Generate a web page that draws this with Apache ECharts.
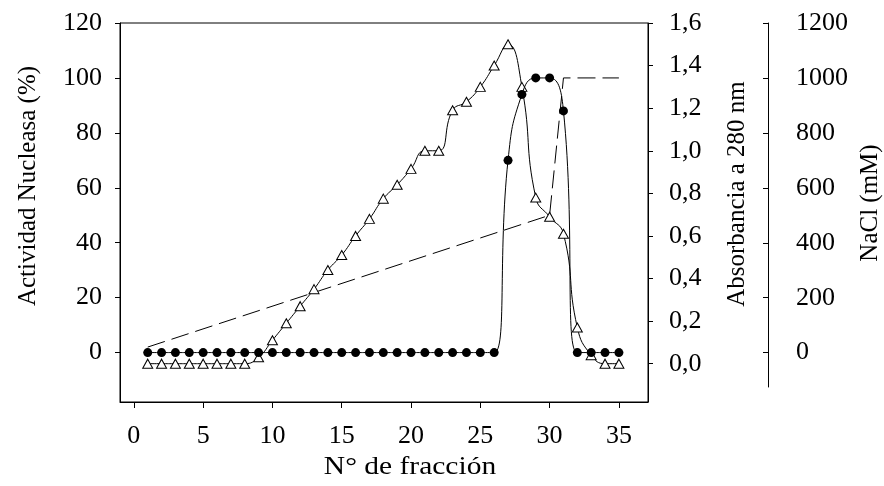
<!DOCTYPE html>
<html>
<head>
<meta charset="utf-8">
<script src="https://cdn.jsdelivr.net/npm/echarts@6/dist/echarts.min.js"></script>
<style>
  html, body { margin: 0; padding: 0; background: #fff; }
  #chart { width: 884px; height: 486px; }
</style>
</head>
<body>
<div id="chart"></div>
<script>
// Fraction numbers collected from the column
const fractions = [1, 2, 3, 4, 5, 6, 7, 8, 9, 10, 11, 12, 13, 14, 15, 16, 17, 18,
  19, 20, 21, 22, 23, 24, 25, 26, 27, 28, 29, 30, 31, 32, 33, 34, 35];

// Nuclease activity (%) per fraction
const activity = [0, 0, 0, 0, 0, 0, 0, 0, 0, 0, 0, 0, 0, 0, 0, 0, 0, 0,
  0, 0, 0, 0, 0, 0, 0, 0, 70, 94, 100, 100, 88, 0, 0, 0, 0];

// Absorbance at 280 nm per fraction
const absorbance = [0, 0, 0, 0, 0, 0, 0, 0, 0.03, 0.11, 0.19, 0.27, 0.35, 0.44,
  0.51, 0.60, 0.68, 0.775, 0.84, 0.915, 1.0, 1.0, 1.19, 1.23, 1.30, 1.40, 1.50,
  1.30, 0.78, 0.69, 0.61, 0.17, 0.04, 0, 0];

// NaCl gradient (mM): linear ramp, then step
const naclFraction = [1, 30, 31, 35];
const naclConc = [20, 500, 1000, 1000];

// Tick labels
const xTicks = [0, 5, 10, 15, 20, 25, 30, 35];
const activityTicks = [0, 20, 40, 60, 80, 100, 120];
const absorbanceTicks = [0, 0.2, 0.4, 0.6, 0.8, 1.0, 1.2, 1.4, 1.6];
const naclTicks = [0, 200, 400, 600, 800, 1000, 1200];

const FONT = 'Liberation Serif';
const INK = '#000';

const pair = (xs, ys) => xs.map((x, i) => [x, ys[i]]);

const chart = echarts.init(document.getElementById('chart'), null, { renderer: 'canvas' });

const labelStyle = { color: INK, fontFamily: FONT, fontSize: 26 };
const titleStyle = { fill: INK, fontFamily: FONT, fontSize: 25, align: 'center', verticalAlign: 'middle' };

chart.setOption({
  animation: false,
  backgroundColor: '#fff',
  textStyle: { fontFamily: FONT },
  grid: [
    { left: 120, right: 236, top: 23, bottom: 84, show: true, borderColor: INK, borderWidth: 1 },
    { left: 700, right: 116, top: 23, bottom: 99 }
  ],
  xAxis: [
    {
      type: 'value', gridIndex: 0, min: -1, max: 37.1,
      axisLine: { show: true, onZero: false, lineStyle: { color: INK, width: 1 } },
      axisTick: { show: true, length: 6, lineStyle: { color: INK }, customValues: xTicks },
      axisLabel: Object.assign({ margin: 21, customValues: xTicks, formatter: v => String(v) }, labelStyle),
      splitLine: { show: false }
    },
    { type: 'value', gridIndex: 1, min: 0, max: 1, show: false }
  ],
  yAxis: [
    {
      type: 'value', gridIndex: 0, position: 'left', min: -18, max: 120,
      axisLine: { show: true, onZero: false, lineStyle: { color: INK, width: 1 } },
      axisTick: { show: true, length: 5, lineStyle: { color: INK }, customValues: activityTicks },
      axisLabel: Object.assign({ margin: 18, customValues: activityTicks, formatter: v => String(v) }, labelStyle),
      splitLine: { show: false }
    },
    {
      type: 'value', gridIndex: 0, position: 'right', min: -0.18, max: 1.6,
      axisLine: { show: true, onZero: false, lineStyle: { color: INK, width: 1 } },
      axisTick: { show: true, length: 5, lineStyle: { color: INK }, customValues: absorbanceTicks },
      axisLabel: Object.assign({
        margin: 21, customValues: absorbanceTicks,
        formatter: v => v.toFixed(1).replace('.', ',')
      }, labelStyle),
      splitLine: { show: false }
    },
    {
      // scale used by the NaCl trace inside the plot
      type: 'value', gridIndex: 0, min: -180, max: 1200, show: false
    },
    {
      type: 'value', gridIndex: 1, position: 'right', min: -125, max: 1200,
      axisLine: { show: true, onZero: false, lineStyle: { color: INK, width: 1 } },
      axisTick: { show: true, inside: true, length: 5, lineStyle: { color: INK }, customValues: naclTicks },
      axisLabel: Object.assign({ margin: 28, customValues: naclTicks, formatter: v => String(v) }, labelStyle),
      splitLine: { show: false }
    }
  ],
  series: [
    {
      name: 'NaCl',
      type: 'line', xAxisIndex: 0, yAxisIndex: 2,
      data: pair(naclFraction, naclConc),
      symbol: 'none',
      lineStyle: { color: INK, width: 1, type: [18, 7] },
      z: 1
    },
    {
      name: 'Absorbancia',
      type: 'line', xAxisIndex: 0, yAxisIndex: 1,
      data: pair(fractions, absorbance),
      smooth: 0.5,
      symbol: 'triangle', symbolSize: [10, 9],
      itemStyle: { color: '#fff', borderColor: INK, borderWidth: 1 },
      lineStyle: { color: INK, width: 1 },
      z: 2
    },
    {
      name: 'Actividad',
      type: 'line', xAxisIndex: 0, yAxisIndex: 0,
      data: pair(fractions, activity),
      smooth: 0.5,
      symbol: 'circle', symbolSize: 9,
      itemStyle: { color: INK, borderWidth: 0 },
      lineStyle: { color: INK, width: 1 },
      z: 3
    }
  ],
  graphic: [
    {
      type: 'text', x: 28, y: 186, rotation: Math.PI / 2,
      style: Object.assign({ text: 'Actividad Nucleasa (%)' }, titleStyle)
    },
    {
      type: 'text', x: 737, y: 194, rotation: Math.PI / 2,
      style: Object.assign({ text: 'Absorbancia a 280 nm' }, titleStyle)
    },
    {
      type: 'text', x: 870, y: 203, rotation: Math.PI / 2,
      style: Object.assign({ text: 'NaCl (mM)' }, titleStyle)
    },
    {
      type: 'text', x: 410, y: 467, scaleX: 1.18,
      style: Object.assign({ text: 'N° de fracción' }, titleStyle)
    }
  ]
});
</script>
</body>
</html>
